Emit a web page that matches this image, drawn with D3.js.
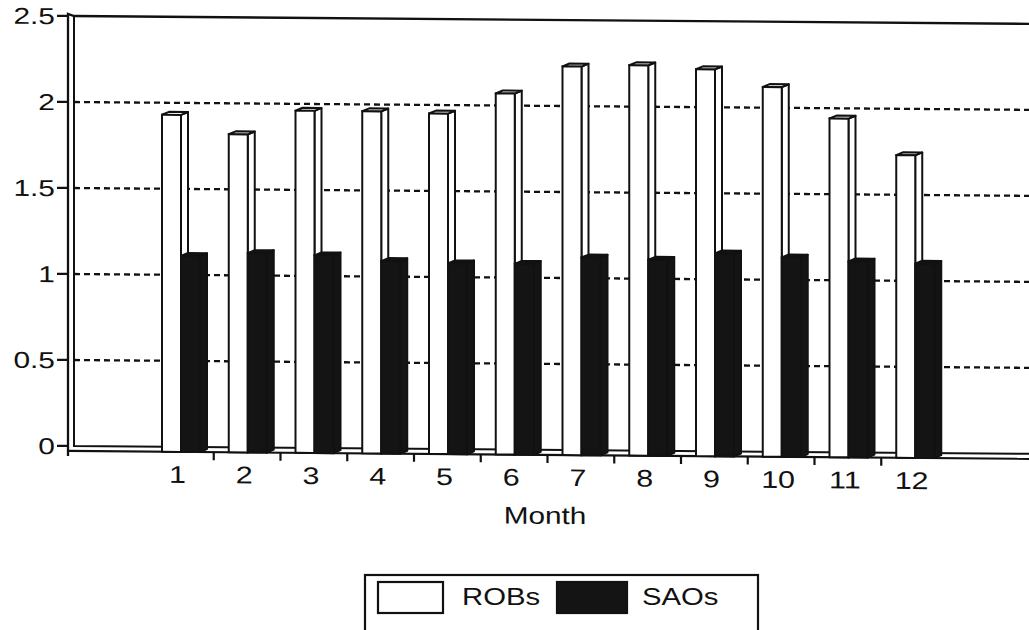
<!DOCTYPE html>
<html>
<head>
<meta charset="utf-8">
<script src="https://cdn.jsdelivr.net/npm/d3@7"></script>
<style>
  body { margin: 0; background: #fff; }
  text { font-family: "Liberation Sans", Arial, sans-serif; fill: #111; }
</style>
</head>
<body>
<div id="chart"></div>
<script>
const months = ["1", "2", "3", "4", "5", "6", "7", "8", "9", "10", "11", "12"];
const robs = [1.93, 1.82, 1.96, 1.96, 1.95, 2.07, 2.23, 2.24, 2.22, 2.12, 1.94, 1.73];
const saos = [1.11, 1.13, 1.12, 1.09, 1.08, 1.08, 1.12, 1.11, 1.15, 1.13, 1.11, 1.10];
const yTicks = [0, 0.5, 1, 1.5, 2, 2.5];
const yTickLabels = ["0", "0.5", "1", "1.5", "2", "2.5"];
const seriesNames = ["ROBs", "SAOs"];

let width = 1029,
    height = 630;

let svg = d3.select("#chart")
  .append("svg")
  .attr("width", width)
  .attr("height", height);

// the scan is slightly tilted, so the plot is skewed a little
let g = svg.append("g")
  .attr("transform", "translate(72,0) skewY(0.47) translate(-72,0)");

let x = d3.scaleBand().domain(months).range([147, 948]);
let y = d3.scaleLinear().domain([0, 2.5]).range([446, 16]);

let wallL = 68, wallR = 74, floorBack = y(0), floorFront = 451, right = 1070;
let barW = 19, dx = 7, dy = 3;

// stretch text horizontally (the original font is a wide one)
// anchors are handled by hand, then the text is laid out from its start
function wide(sel, k) {
  sel.each(function() {
    let t = d3.select(this);
    let len = this.getComputedTextLength();
    let anchor = t.attr("text-anchor") || "start";
    let x0 = +t.attr("x");
    if (anchor == "end") x0 -= len * k;
    if (anchor == "middle") x0 -= len * k / 2;
    t.attr("text-anchor", "start").attr("x", x0)
      .attr("textLength", len * k).attr("lengthAdjust", "spacingAndGlyphs");
  });
}

// gridlines
g.append("g").selectAll("line")
  .data(yTicks.filter(function(t) { return t > 0 && t < 2.5; }))
  .enter().append("line")
  .attr("x1", wallR).attr("x2", right)
  .attr("y1", function(d) { return y(d); })
  .attr("y2", function(d) { return y(d); })
  .attr("stroke", "#111")
  .attr("stroke-width", 2.3)
  .attr("stroke-dasharray", "6,4");

// back wall, top line and floor
g.append("path")
  .attr("d", "M" + wallL + "," + (floorFront + 5) + "V" + (y(2.5) - 2) + "L" + wallR + "," + y(2.5) + "H" + right)
  .attr("fill", "none").attr("stroke", "#111").attr("stroke-width", 2.3);
g.append("path")
  .attr("d", "M" + wallR + "," + y(2.5) + "V" + floorBack + "H" + right)
  .attr("fill", "none").attr("stroke", "#111").attr("stroke-width", 2);
g.append("path")
  .attr("d", "M" + wallL + "," + floorFront + "H" + right)
  .attr("fill", "none").attr("stroke", "#111").attr("stroke-width", 2.2);

// y ticks and labels
let yAxis = g.append("g");
yAxis.selectAll("line")
  .data(yTicks)
  .enter().append("line")
  .attr("x1", 57).attr("x2", wallL)
  .attr("y1", function(d) { return y(d); })
  .attr("y2", function(d) { return y(d); })
  .attr("stroke", "#111").attr("stroke-width", 2.2);
yAxis.selectAll("text")
  .data(yTicks)
  .enter().append("text")
  .attr("x", 55)
  .attr("y", function(d) { return y(d); })
  .attr("dy", "0.36em")
  .attr("text-anchor", "end")
  .style("font-size", "23px")
  .text(function(d, i) { return yTickLabels[i]; })
  .call(wide, 1.3);

// x ticks between months
g.append("g").selectAll("line")
  .data(months.slice(1))
  .enter().append("line")
  .attr("x1", function(d) { return x(d); })
  .attr("x2", function(d) { return x(d); })
  .attr("y1", floorFront).attr("y2", floorFront + 8)
  .attr("stroke", "#111").attr("stroke-width", 2.2);

g.append("g").selectAll("text")
  .data(months)
  .enter().append("text")
  .attr("x", function(d) { return x(d) + x.bandwidth() / 2 - 3; })
  .attr("y", 482)
  .attr("text-anchor", "middle")
  .style("font-size", "24px")
  .text(function(d) { return d; })
  .call(wide, 1.27);

g.append("text")
  .attr("x", 545).attr("y", 520)
  .attr("text-anchor", "middle")
  .style("font-size", "24px")
  .text("Month")
  .call(wide, 1.24);

// 3d bar: side, top, front
function bar3d(sel, off, fill) {
  sel.append("path")
    .attr("d", function(d) {
      let x0 = x(d.m) + off, yt = y(d.v);
      return "M" + (x0 + barW) + "," + yt + "L" + (x0 + barW + dx) + "," + (yt - dy) +
        "V" + (floorFront - dy) + "L" + (x0 + barW) + "," + floorFront + "Z";
    })
    .attr("fill", fill).attr("stroke", "#111").attr("stroke-width", 2).attr("stroke-linejoin", "round");
  sel.append("path")
    .attr("d", function(d) {
      let x0 = x(d.m) + off, yt = y(d.v);
      return "M" + x0 + "," + yt + "L" + (x0 + dx) + "," + (yt - dy) + "H" + (x0 + barW + dx) +
        "L" + (x0 + barW) + "," + yt + "Z";
    })
    .attr("fill", fill).attr("stroke", "#111").attr("stroke-width", 2).attr("stroke-linejoin", "round");
  sel.append("rect")
    .attr("x", function(d) { return x(d.m) + off; })
    .attr("y", function(d) { return y(d.v); })
    .attr("width", barW)
    .attr("height", function(d) { return floorFront - y(d.v); })
    .attr("fill", fill).attr("stroke", "#111").attr("stroke-width", 2);
}

let groups = g.append("g").selectAll("g.month")
  .data(months.map(function(m, i) { return { m: m, rob: robs[i], sao: saos[i] }; }))
  .enter().append("g").attr("class", "month");

groups.append("g")
  .datum(function(d) { return { m: d.m, v: d.rob }; })
  .call(bar3d, 15, "#fff");
groups.append("g")
  .datum(function(d) { return { m: d.m, v: d.sao }; })
  .call(bar3d, 15 + barW, "#141414");

// legend
let legend = svg.append("g");
legend.append("rect")
  .attr("x", 365).attr("y", 575).attr("width", 393).attr("height", 80)
  .attr("fill", "#fff").attr("stroke", "#111").attr("stroke-width", 2.2);
let legX = [378, 557], legTextX = [462, 642], legFill = ["#fff", "#141414"];
seriesNames.forEach(function(name, i) {
  legend.append("rect")
    .attr("x", legX[i]).attr("y", 582).attr("width", i ? 70 : 65).attr("height", 31)
    .attr("fill", legFill[i]).attr("stroke", "#111").attr("stroke-width", 2.2);
  legend.append("text")
    .attr("x", legTextX[i]).attr("y", 605)
    .style("font-size", "24px")
    .text(name)
    .call(wide, 1.22);
});
</script>
</body>
</html>
